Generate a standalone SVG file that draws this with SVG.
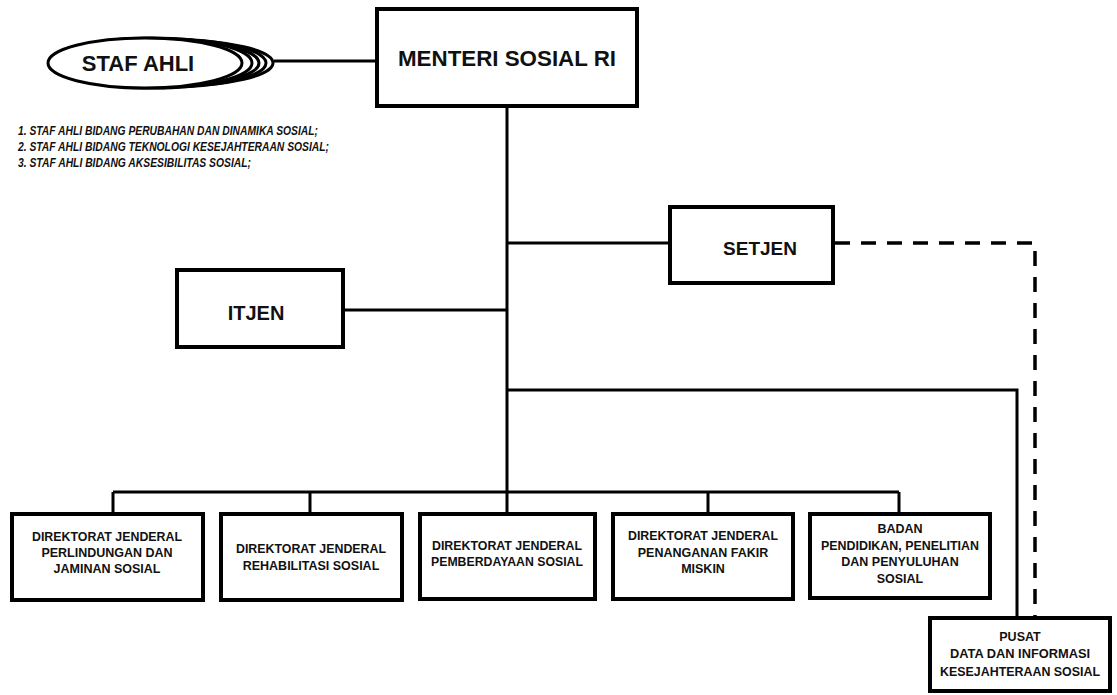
<svg xmlns="http://www.w3.org/2000/svg" width="1117" height="695" viewBox="0 0 1117 695">
<style>
.box{fill:#fff;stroke:#000;stroke-width:4}
.ln{fill:none;stroke:#000;stroke-width:3}
.dash{fill:none;stroke:#000;stroke-width:3.5;stroke-dasharray:15 11}
.t{font-family:"Liberation Sans",Arial,sans-serif;font-weight:bold;fill:#111;text-anchor:middle}
.big{font-size:22px}
.sm{font-size:12.5px}
.it{font-family:"Liberation Sans",Arial,sans-serif;font-weight:bold;font-style:italic;font-size:13.5px;fill:#111}
.el{fill:#fff;stroke:#000;stroke-width:3}
</style>
<rect width="1117" height="695" fill="#fff"/>
<g id="connectors">
<line class="ln" x1="274" y1="61" x2="377" y2="61"/>
<line class="ln" x1="507" y1="106" x2="507" y2="492"/>
<line class="ln" x1="507" y1="243" x2="670" y2="243"/>
<line class="ln" x1="343" y1="310" x2="507" y2="310"/>
<polyline class="ln" points="507,390 1017,390 1017,618"/>
<line class="ln" x1="113" y1="492" x2="899" y2="492"/>
<line class="ln" x1="113" y1="492" x2="113" y2="514"/>
<line class="ln" x1="310" y1="492" x2="310" y2="514"/>
<line class="ln" x1="507" y1="492" x2="507" y2="514"/>
<line class="ln" x1="708" y1="492" x2="708" y2="514"/>
<line class="ln" x1="899" y1="492" x2="899" y2="514"/>
<polyline class="dash" points="835,243 1035,243 1035,618"/>
</g>
<g id="staf-ahli">
<ellipse class="el" cx="173" cy="63" rx="100" ry="23"/>
<ellipse class="el" cx="166" cy="63" rx="100" ry="24"/>
<ellipse class="el" cx="159" cy="63" rx="100" ry="24"/>
<ellipse class="el" cx="152" cy="63" rx="100" ry="25"/>
<ellipse class="el" cx="145" cy="63" rx="97" ry="25"/>
<text class="t big" x="138" y="71">STAF AHLI</text>
</g>
<g id="staf-list">
<text class="it" x="18" y="135" textLength="300" lengthAdjust="spacingAndGlyphs">1. STAF AHLI BIDANG PERUBAHAN DAN DINAMIKA SOSIAL;</text>
<text class="it" x="18" y="151" textLength="311" lengthAdjust="spacingAndGlyphs">2. STAF AHLI BIDANG TEKNOLOGI KESEJAHTERAAN SOSIAL;</text>
<text class="it" x="18" y="167" textLength="233" lengthAdjust="spacingAndGlyphs">3. STAF AHLI BIDANG AKSESIBILITAS SOSIAL;</text>
</g>
<g id="menteri">
<rect class="box" x="377" y="9" width="260" height="97"/>
<text class="t big" x="507" y="66" textLength="218" lengthAdjust="spacingAndGlyphs">MENTERI SOSIAL RI</text>
</g>
<g id="setjen">
<rect class="box" x="670" y="207" width="163" height="76"/>
<text class="t" x="760" y="255" font-size="19">SETJEN</text>
</g>
<g id="itjen">
<rect class="box" x="177" y="270" width="166" height="77"/>
<text class="t" x="256" y="320" font-size="20">ITJEN</text>
</g>
<g id="dj-linjamsos">
<rect class="box" x="12" y="514" width="191" height="86"/>
<text class="t sm" x="107" y="541" textLength="150" lengthAdjust="spacingAndGlyphs">DIREKTORAT JENDERAL</text>
<text class="t sm" x="107" y="557">PERLINDUNGAN DAN</text>
<text class="t sm" x="107" y="573">JAMINAN SOSIAL</text>
</g>
<g id="dj-rehsos">
<rect class="box" x="221" y="514" width="181" height="86"/>
<text class="t sm" x="311" y="553" textLength="150" lengthAdjust="spacingAndGlyphs">DIREKTORAT JENDERAL</text>
<text class="t sm" x="311" y="570">REHABILITASI SOSIAL</text>
</g>
<g id="dj-dayasos">
<rect class="box" x="420" y="514" width="175" height="85"/>
<text class="t sm" x="507" y="550" textLength="150" lengthAdjust="spacingAndGlyphs">DIREKTORAT JENDERAL</text>
<text class="t sm" x="507" y="566" textLength="152" lengthAdjust="spacingAndGlyphs">PEMBERDAYAAN SOSIAL</text>
</g>
<g id="dj-pfm">
<rect class="box" x="613" y="514" width="180" height="85"/>
<text class="t sm" x="703" y="540" textLength="150" lengthAdjust="spacingAndGlyphs">DIREKTORAT JENDERAL</text>
<text class="t sm" x="703" y="557">PENANGANAN FAKIR</text>
<text class="t sm" x="703" y="573">MISKIN</text>
</g>
<g id="badan">
<rect class="box" x="810" y="514" width="180" height="84"/>
<text class="t sm" x="900" y="533">BADAN</text>
<text class="t sm" x="900" y="550" textLength="158" lengthAdjust="spacingAndGlyphs">PENDIDIKAN, PENELITIAN</text>
<text class="t sm" x="900" y="566">DAN PENYULUHAN</text>
<text class="t sm" x="900" y="583">SOSIAL</text>
</g>
<g id="pusdatin">
<rect class="box" x="930" y="618" width="180" height="73"/>
<text class="t sm" x="1020" y="641">PUSAT</text>
<text class="t sm" x="1020" y="658" textLength="140" lengthAdjust="spacingAndGlyphs">DATA DAN INFORMASI</text>
<text class="t sm" x="1020" y="676" textLength="160" lengthAdjust="spacingAndGlyphs">KESEJAHTERAAN SOSIAL</text>
</g>
</svg>
